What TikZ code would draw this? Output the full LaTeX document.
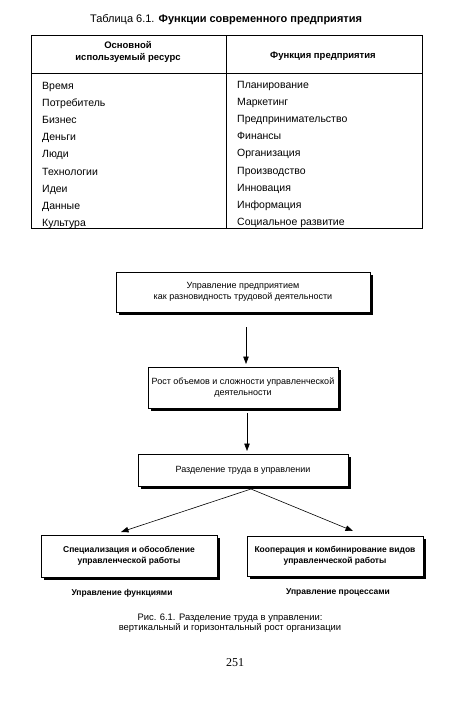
\documentclass[tikz,border=0pt]{standalone}
\usepackage{fontspec}
\setmainfont{Liberation Sans}
\newfontfamily\pagefont{Liberation Serif}
\usetikzlibrary{arrows.meta}
\begin{document}
\begin{tikzpicture}[x=1pt,y=-1pt,
  cell/.style={anchor=base west,inner sep=0pt,font=\fontsize{10.5}{12}\selectfont},
  hdr/.style={align=center,inner sep=0pt,font=\fontsize{9.5}{12.5}\selectfont\bfseries},
  fbox/.style={draw,line width=0.6pt,fill=white,align=center,inner sep=0pt,font=\fontsize{9}{10.5}\selectfont},
  fboxb/.style={fbox,font=\fontsize{8.5}{11}\selectfont\bfseries},
  lab/.style={inner sep=0pt,font=\fontsize{8.5}{10}\selectfont\bfseries},
  captext/.style={align=center,inner sep=0pt,font=\fontsize{9.4}{10.5}\selectfont},
  arr/.style={-{Triangle[length=7.5pt,width=5.5pt]},line width=0.6pt}
]
\useasboundingbox (0,0) rectangle (474,718);
% Title
\node[inner sep=0pt,font=\fontsize{11}{12}\selectfont] (title) at (226,20) {Таблица 6.1. \textbf{Функции современного предприятия}};
% Table frame
\draw[line width=0.6pt] (31,35) rectangle (422,228);
\draw[line width=0.6pt] (31,73) -- (422,73);
\draw[line width=0.6pt] (226,35) -- (226,228);
\node[hdr] (h1) at (128,52) {Основной\\используемый ресурс};
\node[hdr] (h2) at (323,56) {Функция предприятия};
% rows
\foreach \i/\a/\b in {0/Время/Планирование,1/Потребитель/Маркетинг,2/Бизнес/Предпринимательство,3/Деньги/Финансы,4/Люди/Организация,5/Технологии/Производство,6/Идеи/Инновация,7/Данные/Информация,8/Культура/Социальное развитие}{
  \node[cell] (l\i) at (42,{89+\i*17.2}) {\a};
  \node[cell] (r\i) at (237,{88+\i*17.2}) {\b};
}
% Flowchart boxes with shadows
\fill (119,275) rectangle (373,315);
\node[fbox,minimum width=254pt,minimum height=40pt] (b1) at (243,292) {Управление предприятием\\как разновидность трудовой деятельности};
\fill (151,370) rectangle (341,411);
\node[fbox,minimum width=190pt,minimum height=41pt] (b2) at (243,387.5) {Рост объемов и сложности управленческой\\деятельности};
\fill (141,457) rectangle (351,489);
\node[fbox,minimum width=210pt,minimum height=32pt] (b3) at (243,470) {Разделение труда в управлении};
\fill (44,538) rectangle (220,580);
\node[fboxb,minimum width=176pt,minimum height=42pt] (b4) at (129,556) {Специализация и обособление\\управленческой работы};
\fill (250,539) rectangle (426,579);
\node[fboxb,minimum width=176pt,minimum height=40pt] (b5) at (335,556) {Кооперация и комбинирование видов\\управленческой работы};
% arrows
\coordinate (a1s) at (246,327);
\coordinate (a1e) at (246,364);
\draw[arr] (a1s) -- (a1e);
\coordinate (a2s) at (247,413);
\coordinate (a2e) at (247,451);
\draw[arr] (a2s) -- (a2e);
\coordinate (apex) at (251,489);
\coordinate (lt) at (121,532);
\coordinate (rt) at (353,531);
\draw[arr] (apex) -- (lt);
\draw[arr] (apex) -- (rt);
% labels
\node[lab] (lab1) at (122,593) {Управление функциями};
\node[lab] (lab2) at (338,592) {Управление процессами};
\node[captext] (capt) at (230,623) {Рис. 6.1. Разделение труда в управлении:\\вертикальный и горизонтальный рост организации};
\node[inner sep=0pt,font=\pagefont\fontsize{12}{14}\selectfont] (pg) at (235,663) {251};
\end{tikzpicture}
\end{document}
